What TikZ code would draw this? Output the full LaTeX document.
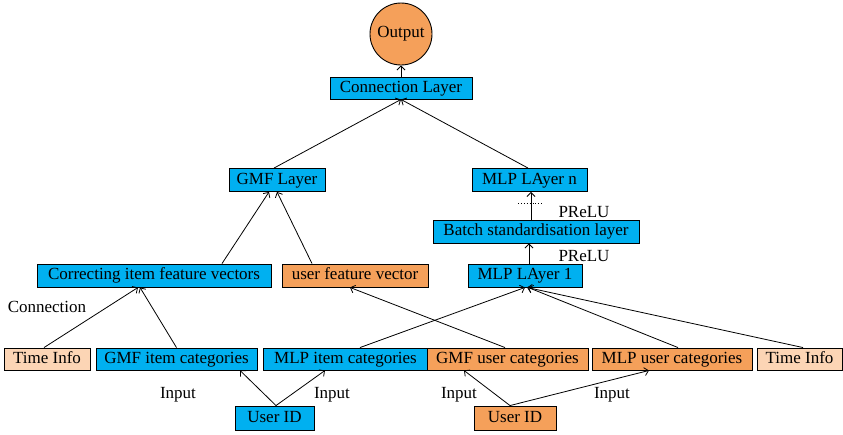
\documentclass[tikz,border=0pt]{standalone}
\usepackage{fontspec}
\setmainfont{Liberation Serif}
\usetikzlibrary{arrows.meta,calc}
\definecolor{cblue}{RGB}{0,176,240}
\definecolor{corange}{RGB}{245,160,90}
\definecolor{cpeach}{RGB}{252,213,181}
\begin{document}
\begin{tikzpicture}[x=1pt,y=-1pt,
  every node/.style={font=\fontsize{17}{20}\selectfont},
  box/.style={draw=black,line width=0.9pt,minimum height=22pt,inner sep=0pt,anchor=center,text height=11.5pt,text depth=3.5pt},
  bluebox/.style={box,fill=cblue},
  orbox/.style={box,fill=corange},
  pbox/.style={box,fill=cpeach},
  conn/.style={line width=0.8pt,-{Straight Barb[length=4pt,width=8pt]}},
  lbl/.style={inner sep=0pt}]
\useasboundingbox (0,0) rectangle (843,434);
\node[draw=black,line width=0.9pt,fill=corange,circle,minimum size=62pt,inner sep=0pt] (out) at (401,34) {Output};
\node[bluebox,minimum width=142pt] (cl) at (401,88) {Connection Layer};
\node[bluebox,minimum width=96pt,minimum height=23pt] (gmfl) at (277,180) {GMF Layer};
\node[bluebox,minimum width=115pt,minimum height=23pt] (mlpn) at (529.5,180) {MLP LAyer n};
\node[bluebox,minimum width=206pt,minimum height=23pt] (batch) at (536,231.5) {Batch standardisation layer};
\node[bluebox,minimum width=114pt,minimum height=23pt] (mlp1) at (525,275.5) {MLP LAyer 1};
\node[bluebox,minimum width=234pt,minimum height=23pt] (corr) at (154,275.5) {Correcting item feature vectors};
\node[orbox,minimum width=146pt,minimum height=23pt] (ufv) at (355,275.5) {user feature vector};
\node[pbox,minimum width=86pt] (ti1) at (47,359) {Time Info};
\node[bluebox,minimum width=161pt] (gic) at (176.5,359) {GMF item categories};
\node[bluebox,minimum width=165pt] (mic) at (345.5,359) {MLP item categories};
\node[orbox,minimum width=161pt] (guc) at (507.5,359) {GMF user categories};
\node[orbox,minimum width=160pt] (muc) at (672,359) {MLP user categories};
\node[pbox,minimum width=85pt] (ti2) at (799.5,359) {Time Info};
\node[bluebox,minimum width=79pt,minimum height=24pt] (uid1) at (274.5,418) {User ID};
\node[orbox,minimum width=82pt,minimum height=24pt] (uid2) at (515,418) {User ID};
% labels
\node[lbl] (lconn) at (47,307) {Connection};
\node[lbl] (in1) at (178,395) {Input};
\node[lbl] (in2) at (332,395) {Input};
\node[lbl] (in3) at (459,395) {Input};
\node[lbl] (in4) at (612,395) {Input};
\node[lbl] (pr1) at (584,212) {PReLU};
\node[lbl] (pr2) at (584,256) {PReLU};
\draw[line width=0.9pt,dotted] (518,203) -- (543,203);
% connectors
\draw[conn] (cl.north) -- (out.south);
\draw[conn] ([xshift=-3pt]gmfl.north) -- (cl.south);
\draw[conn] ([xshift=-1.5pt]mlpn.north) -- (cl.south);
\draw[conn] ([xshift=-5pt]batch.north) -- ([xshift=1.5pt]mlpn.south);
\draw[conn] ([xshift=4pt]mlp1.north) -- ([xshift=-7pt]batch.south);
\draw[conn] ([xshift=68pt]corr.north) -- ([xshift=-8pt]gmfl.south);
\draw[conn] ([xshift=-43pt]ufv.north) -- (gmfl.south);
\draw[conn] ([xshift=-3pt]ti1.north) -- ([xshift=-16pt]corr.south);
\draw[conn] (gic.north) -- ([xshift=-14pt]corr.south);
\draw[conn] ([xshift=14.5pt]mic.north) -- (mlp1.south);
\draw[conn] ([xshift=-2.5pt]guc.north) -- ([xshift=-5pt]ufv.south);
\draw[conn] ([xshift=6pt]muc.north) -- ([xshift=3pt]mlp1.south);
\draw[conn] ([xshift=3.5pt]ti2.north) -- ([xshift=2pt]mlp1.south);
\draw[conn] ([xshift=1.5pt]uid1.north) -- ([xshift=63.5pt]gic.south);
\draw[conn] ([xshift=1.5pt]uid1.north) -- ([xshift=-20.5pt]mic.south);
\draw[conn] ([xshift=-5pt]uid2.north) -- ([xshift=-43.5pt]guc.south);
\draw[conn] ([xshift=-5pt]uid2.north) -- ([xshift=-23pt]muc.south);
\end{tikzpicture}
\end{document}
